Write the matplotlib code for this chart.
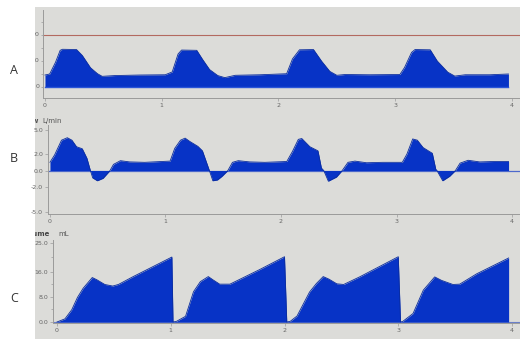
import numpy as np
import matplotlib
matplotlib.use("Agg")
import matplotlib.pyplot as plt
from matplotlib.patches import Rectangle
from matplotlib.transforms import Bbox, TransformedBbox

# ===== DATA (skew removed) =====
# A: pressure
t_pres = [0.0, 0.04, 0.09, 0.13, 0.15, 0.27, 0.32, 0.39, 0.45, 0.49, 0.60, 0.81, 1.03,
          1.09, 1.14, 1.17, 1.30, 1.35, 1.41, 1.48, 1.54, 1.63, 1.84, 2.07, 2.12, 2.18,
          2.30, 2.37, 2.44, 2.50, 2.57, 2.78, 3.04, 3.08, 3.14, 3.17, 3.30, 3.36, 3.45,
          3.51, 3.60, 3.81, 3.97]
pres = [4.6, 5.0, 9.5, 14.1, 14.5, 14.4, 12.1, 7.4, 5.1, 4.1, 4.4, 4.6, 4.7,
        5.8, 12.7, 14.2, 14.1, 10.6, 6.7, 4.4, 3.6, 4.5, 4.7, 5.1, 10.8, 14.3,
        14.4, 9.9, 6.0, 4.5, 4.8, 4.7, 4.8, 7.5, 13.3, 14.4, 14.3, 10.0, 5.7,
        4.2, 4.7, 4.7, 5.0]
pres_limit = 20

# B: flow (L/min)
t_flow = [0.00, 0.04, 0.10, 0.15, 0.19, 0.23, 0.28, 0.32, 0.35, 0.37, 0.41, 0.46, 0.52,
          0.55, 0.61, 0.69, 0.82, 1.04, 1.08, 1.13, 1.17, 1.21, 1.28, 1.32, 1.36, 1.38,
          1.41, 1.45, 1.49, 1.54, 1.58, 1.63, 1.73, 1.86, 2.05, 2.10, 2.15, 2.18, 2.25,
          2.32, 2.35, 2.37, 2.41, 2.48, 2.53, 2.58, 2.64, 2.74, 2.88, 3.05, 3.09, 3.14,
          3.18, 3.23, 3.31, 3.34, 3.35, 3.40, 3.46, 3.51, 3.55, 3.62, 3.72, 3.84, 3.97]
flow = [1.0, 1.9, 3.7, 4.0, 3.7, 2.9, 2.65, 1.5, 0.0, -0.9, -1.25, -0.95, 0.0,
        0.75, 1.2, 1.05, 1.0, 1.15, 2.7, 3.7, 3.95, 3.55, 2.95, 2.4, 0.8, 0.0,
        -1.25, -1.15, -0.7, 0.0, 1.0, 1.2, 1.05, 1.0, 1.1, 2.35, 3.8, 3.9, 2.9,
        2.4, 0.3, 0.0, -1.3, -0.8, 0.0, 1.0, 1.15, 0.95, 1.0, 1.0, 2.0, 3.85,
        3.7, 2.8, 2.1, 0.15, 0.0, -1.25, -0.7, 0.0, 0.9, 1.25, 1.05, 1.1, 1.1]

# C: volume (mL)
t_vol = [0.0, 0.07, 0.13, 0.18, 0.23, 0.31, 0.35, 0.42, 0.49, 0.54, 0.67, 1.01,
         1.02, 1.05, 1.13, 1.20, 1.26, 1.33, 1.37, 1.43, 1.52, 1.78, 2.00,
         2.02, 2.05, 2.11, 2.22, 2.28, 2.34, 2.39, 2.46, 2.52, 2.66, 3.00,
         3.02, 3.04, 3.13, 3.22, 3.32, 3.38, 3.48, 3.54, 3.69, 3.97]
vol = [0.0, 1.0, 3.9, 7.8, 10.7, 14.1, 13.4, 11.9, 11.4, 11.9, 14.4, 20.6,
       0.0, 0.2, 1.8, 9.6, 12.8, 14.4, 13.4, 12.0, 12.0, 16.6, 20.7,
       0.0, 0.2, 1.9, 9.5, 12.2, 14.4, 13.6, 12.1, 11.9, 14.3, 20.7,
       0.0, 0.2, 2.7, 10.1, 14.3, 13.2, 11.9, 12.0, 15.3, 20.3]

x_ticks = [0, 1, 2, 3, 4]
pres_ticks = [0, 10, 20]
flow_ticks = [5.0, 2.0, 0.0, -2.0, -5.0]
vol_ticks = [0.0, 8.0, 16.0, 25.0]

# ===== STYLE =====
W, H = 520, 339
screen_bg = '#dcdcd9'
wave_blue = '#0733c6'
axis_grey = '#9a9a9a'
label_grey = '#666666'


def box(left, top, right, bottom):
    return [left / W, 1 - bottom / H, (right - left) / W, (bottom - top) / H]


fig = plt.figure(figsize=(W / 100, H / 100), dpi=100)
fig.patches.append(Rectangle((35 / W, 0), 1 - 35 / W, 1 - 7 / H, transform=fig.transFigure,
                             facecolor=screen_bg, edgecolor='none', zorder=-10))
clip = TransformedBbox(Bbox.from_extents(35 / W, 0, 1, 1), fig.transFigure)

axA = fig.add_axes(box(43, 10, 520, 98))
axB = fig.add_axes(box(48, 125, 520, 214))
axC = fig.add_axes(box(53, 240, 520, 323))

for ax in (axA, axB, axC):
    ax.set_facecolor('none')
    for s in ('top', 'right'):
        ax.spines[s].set_visible(False)
    for s in ('left', 'bottom'):
        ax.spines[s].set_color(axis_grey)
        ax.spines[s].set_linewidth(0.7)
    ax.tick_params(colors=axis_grey, labelcolor=label_grey, labelsize=4.5,
                   length=2, width=0.5, pad=1.5)
    ax.set_xticks(x_ticks)
    ax.set_xticklabels([str(v) for v in x_ticks])

# --- A: pressure ---
axA.set_xlim(-0.017, 4.069)
axA.set_ylim(-4.23, 29.6)
axA.axhline(pres_limit, color='#b36a60', lw=0.8, zorder=1)
axA.fill_between(t_pres, 0, pres, color=wave_blue, lw=0, zorder=2)
axA.plot(t_pres, pres, color='#0a2c9e', lw=0.6, zorder=3)
axA.plot([t_pres[0], t_pres[-1]], [0, 0], color='#2a55d8', lw=1.0, zorder=3)
axA.set_yticks([5, 15, 25], minor=True)
axA.tick_params(axis='y', which='both', length=1.5, width=0.5, colors=axis_grey)
axA.set_yticks(pres_ticks)
axA.set_yticklabels([])
for v in pres_ticks:
    lbl = axA.annotate(str(v), (0, v), xycoords=('axes fraction', 'data'),
                       xytext=(-2.5, 0), textcoords='offset points', ha='right',
                       va='center', fontsize=4.5, color=label_grey, annotation_clip=False)
    lbl.set_clip_box(clip)
    lbl.set_clip_on(True)

# --- B: flow ---
axB.set_xlim(-0.017, 4.069)
axB.set_ylim(-5.30, 5.55)
axB.axhline(0, color='#4d69cc', lw=0.9, zorder=1)
axB.fill_between(t_flow, 0, flow, color=wave_blue, lw=0, zorder=2)
axB.plot(t_flow, flow, color='#0a2c9e', lw=0.6, zorder=3)
axB.set_yticks(flow_ticks)
axB.set_yticklabels([f'{v:.1f}' for v in flow_ticks])
t1 = fig.text(39 / W, 1 - 121 / H, 'Flow', ha='right', va='center', fontsize=5,
              color='#555555', fontweight='bold')
fig.text(42 / W, 1 - 121 / H, 'L/min', ha='left', va='center', fontsize=5, color='#555555')

# --- C: volume ---
axC.set_xlim(-0.035, 4.07)
axC.set_ylim(-0.32, 26.0)
axC.fill_between(t_vol, 0, vol, color=wave_blue, lw=0, zorder=2)
axC.plot(t_vol, vol, color='#0a2c9e', lw=0.6, zorder=3)
axC.axhline(0, color='#6a7fc8', lw=0.8, zorder=1)
axC.set_yticks(vol_ticks)
axC.set_yticklabels([f'{v:.1f}' for v in vol_ticks])
axC.set_yticks([4, 12, 20.5], minor=True)
axC.tick_params(axis='y', which='minor', length=1.5, width=0.5, colors=axis_grey)
t2 = fig.text(50 / W, 1 - 234 / H, 'Volume', ha='right', va='center', fontsize=5,
              color='#444444', fontweight='bold')
fig.text(58 / W, 1 - 234 / H, 'mL', ha='left', va='center', fontsize=5, color='#555555')
for t in (t1, t2):
    t.set_clip_box(clip)
    t.set_clip_on(True)

# ===== PANEL LETTERS =====
for letter, ypx in (('A', 70), ('B', 158), ('C', 299)):
    fig.text(14 / W, 1 - ypx / H, letter, ha='center', va='center', fontsize=9,
             color='#333333', family=['Open Sans', 'DejaVu Sans'])

fig.savefig('out.png', dpi=100)
